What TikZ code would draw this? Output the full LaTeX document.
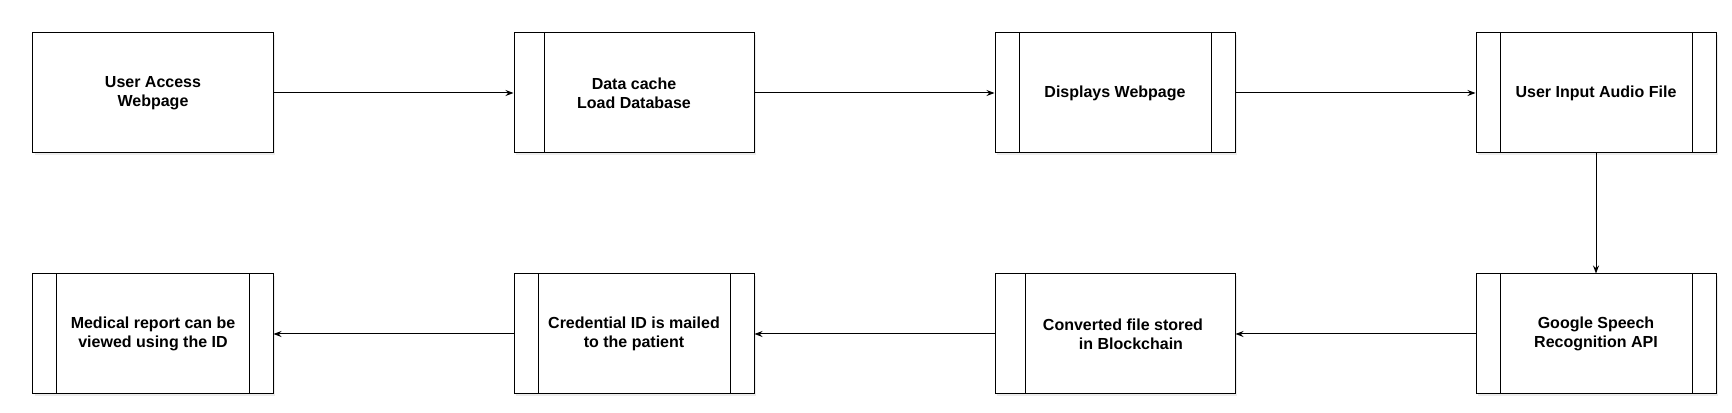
\documentclass[tikz,border=0pt]{standalone}
\usepackage{fontspec}
\setmainfont{Liberation Sans}
\usetikzlibrary{positioning,arrows.meta,shadows}

\tikzset{
  box/.style={draw, fill=white, line width=0.75pt, minimum width=180pt, minimum height=90pt,
    inner sep=0pt, align=center, font=\fontsize{12}{14.5}\selectfont\bfseries,
    drop shadow={opacity=0.15, shadow xshift=1.5pt, shadow yshift=-1.5pt}},
  proc/.style={box, path picture={
    \draw[line width=0.75pt] ([xshift=18pt]path picture bounding box.north west) -- ([xshift=18pt]path picture bounding box.south west)
      ([xshift=-18pt]path picture bounding box.north east) -- ([xshift=-18pt]path picture bounding box.south east);}},
  halfproc/.style={box, path picture={
    \draw[line width=0.75pt] ([xshift=22.5pt]path picture bounding box.north west) -- ([xshift=22.5pt]path picture bounding box.south west);}},
  flow/.style={-{Stealth[length=6pt,width=4.5pt]}, line width=0.75pt}
}

\begin{document}
\begin{tikzpicture}
\useasboundingbox (-114.75pt,69.75pt) rectangle (1184.25pt,-240pt);
\node[box] at (0,0) (access) {User Access\\Webpage};
\node[halfproc, right=180pt of access] (cache) {Data cache\\Load Database};
\node[proc, right=180pt of cache] (display) {Displays Webpage};
\node[proc, right=180pt of display] (input) {User Input Audio File};
\node[proc, below=90pt of input] (speech) {Google Speech\\Recognition API};
\node[halfproc, left=180pt of speech] (stored) {\hspace*{12pt}Converted file stored\\\hspace*{24pt}in Blockchain};
\node[proc, left=180pt of stored] (mailed) {Credential ID is mailed\\to the patient};
\node[proc, left=180pt of mailed] (report) {Medical report can be\\viewed using the ID};
\draw[flow] (access) -- (cache);
\draw[flow] (cache) -- (display);
\draw[flow] (display) -- (input);
\draw[flow] (input) -- (speech);
\draw[flow] (speech) -- (stored);
\draw[flow] (stored) -- (mailed);
\draw[flow] (mailed) -- (report);
\end{tikzpicture}
\end{document}
